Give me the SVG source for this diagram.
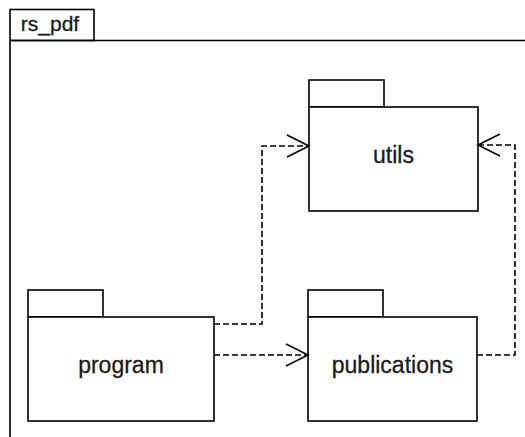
<svg xmlns="http://www.w3.org/2000/svg" width="525" height="437" viewBox="0 0 525 437">
<style>
.box{fill:#fff;stroke:#000;stroke-width:1.6}
.lbl{font-family:"Liberation Sans",Arial,sans-serif;font-size:23px;fill:#1a1a1a;text-anchor:middle;stroke:#1a1a1a;stroke-width:0.3}
.dep{fill:none;stroke:#000;stroke-width:1.6;stroke-dasharray:6 3}
.head{fill:none;stroke:#000;stroke-width:1.6}
</style>
<rect width="525" height="437" fill="#fff"/>
<g id="rs_pdf">
<rect class="box" x="10" y="9.5" width="84" height="31"/>
<path d="M10 40.5 H530 M10 40.5 V440" fill="none" stroke="#000" stroke-width="1.6"/>
<text class="lbl" x="50" y="31" style="font-size:21px">rs_pdf</text>
</g>
<g id="utils">
<rect class="box" x="309" y="80" width="75" height="27"/>
<rect class="box" x="309" y="107" width="169" height="104"/>
<text class="lbl" x="393.5" y="163">utils</text>
</g>
<g id="program">
<rect class="box" x="28" y="290" width="75" height="27"/>
<rect class="box" x="28" y="317" width="186" height="104"/>
<text class="lbl" x="121" y="373">program</text>
</g>
<g id="publications">
<rect class="box" x="308" y="290" width="75" height="27"/>
<rect class="box" x="308" y="317" width="169" height="104"/>
<text class="lbl" x="392.5" y="373">publications</text>
</g>
<g id="connectors">
<path class="dep" d="M214 324 H262 V146 H307"/>
<path class="head" d="M287 135 L309 146 L287 157"/>
<path class="dep" d="M214 355 H306"/>
<path class="head" d="M286 344 L308 355 L286 366"/>
<path class="dep" d="M477 355 H515 V145 H480"/>
<path class="head" d="M500 134 L478 145 L500 156"/>
</g>
</svg>
